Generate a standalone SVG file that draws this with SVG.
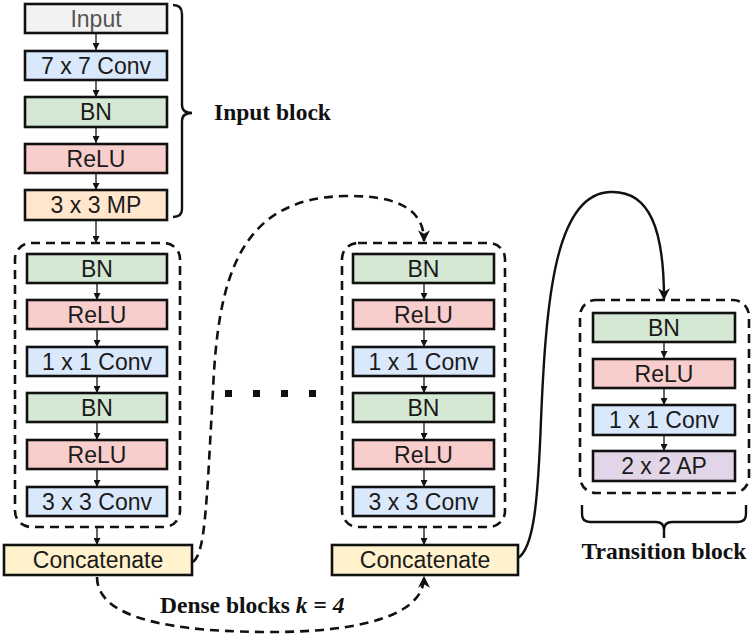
<svg xmlns="http://www.w3.org/2000/svg" width="754" height="642" viewBox="0 0 754 642">
<style>
.box{stroke:#111;stroke-width:2.6}
.lbl{font-family:"Liberation Sans",Arial,sans-serif;font-size:23px;fill:#1a1a1a;text-anchor:middle;dominant-baseline:central}
.in{fill:#f2f2f2}.conv{fill:#dae8fc}.bn{fill:#d5e8d4}.relu{fill:#f8cecc}.mp{fill:#ffe6cc}.cat{fill:#fff2cc}.ap{fill:#e1d5e7}
.dbox{fill:none;stroke:#111;stroke-width:2.6;stroke-dasharray:9 6}
.step{stroke:#111;stroke-width:1.3;fill:none;marker-end:url(#sa)}
.dcurve{fill:none;stroke:#111;stroke-width:2.6;stroke-dasharray:9 6;marker-end:url(#ba)}
.scurve{fill:none;stroke:#111;stroke-width:2.4;marker-end:url(#ba)}
.brace{fill:none;stroke:#111;stroke-width:2.4}
.title{font-family:"Liberation Serif","Times New Roman",serif;font-size:23.5px;font-weight:bold;fill:#111}
</style>
<defs>
<marker id="sa" viewBox="0 0 10 10" refX="10" refY="5" markerWidth="7" markerHeight="7" markerUnits="userSpaceOnUse" orient="auto"><path d="M0,0 L10,5 L0,10 z" fill="#111"/></marker>
<marker id="ba" viewBox="0 0 10 10" refX="9" refY="5" markerWidth="12" markerHeight="12" markerUnits="userSpaceOnUse" orient="auto"><path d="M0,0 L10,5 L0,10 L3,5 z" fill="#111"/></marker>
</defs>

<g id="connectors">
<line class="step" x1="96" y1="33" x2="96" y2="50"/>
<line class="step" x1="96" y1="80" x2="96" y2="97"/>
<line class="step" x1="96" y1="127" x2="96" y2="143"/>
<line class="step" x1="96" y1="173" x2="96" y2="190"/>
<line class="step" x1="96" y1="220" x2="96" y2="243"/>
<line class="step" x1="97" y1="283" x2="97" y2="300"/>
<line class="step" x1="97" y1="329" x2="97" y2="347"/>
<line class="step" x1="97" y1="376" x2="97" y2="393"/>
<line class="step" x1="97" y1="422" x2="97" y2="440"/>
<line class="step" x1="97" y1="469" x2="97" y2="487"/>
<line class="step" x1="97" y1="527" x2="97" y2="545"/>
<line class="step" x1="424" y1="283" x2="424" y2="300"/>
<line class="step" x1="424" y1="329" x2="424" y2="347"/>
<line class="step" x1="424" y1="376" x2="424" y2="393"/>
<line class="step" x1="424" y1="422" x2="424" y2="440"/>
<line class="step" x1="424" y1="469" x2="424" y2="487"/>
<line class="step" x1="424" y1="527" x2="424" y2="545"/>
<line class="step" x1="664" y1="342" x2="664" y2="358"/>
<line class="step" x1="664" y1="388" x2="664" y2="405"/>
<line class="step" x1="664" y1="435" x2="664" y2="451"/>
<path class="dcurve" d="M193,562 C203,555 205,520 208,480 L213,390 C218,280 238,198 345,196 C402,195 424,212 424,241"/>
<path class="dcurve" d="M97,577 C97,612 150,631 262,632 C362,633 424,615 424,577"/>
<path class="scurve" d="M518,558 C534,548 538,500 541,420 C546,300 555,194 610,192 C650,190 664,230 664,299"/>
</g>

<g id="input-block-brace">
<path class="brace" d="M173,5 Q182,5 182,14 L182,105 Q182,113 192,113 Q182,113 182,121 L182,209 Q182,217 173,217"/>
<text class="title" x="214" y="120">Input block</text>
</g>

<g id="node-input"><rect class="box in" x="25" y="4" width="142" height="29"/><text class="lbl" x="96" y="18.5" style="fill:#555">Input</text></g>
<g id="node-conv7"><rect class="box conv" x="25" y="51" width="142" height="29"/><text class="lbl" x="96" y="65.5">7 x 7 Conv</text></g>
<g id="node-bn0"><rect class="box bn" x="25" y="97" width="142" height="30"/><text class="lbl" x="96" y="112">BN</text></g>
<g id="node-relu0"><rect class="box relu" x="25" y="144" width="142" height="29"/><text class="lbl" x="96" y="158.5">ReLU</text></g>
<g id="node-mp"><rect class="box mp" x="25" y="190" width="142" height="30"/><text class="lbl" x="96" y="205">3 x 3 MP</text></g>

<g id="dense-block-1">
<rect class="dbox" x="15" y="243" width="165" height="284" rx="16"/>
<g id="d1-bn1"><rect class="box bn" x="27" y="254" width="140" height="29"/><text class="lbl" x="97" y="268.5">BN</text></g>
<g id="d1-relu1"><rect class="box relu" x="27" y="300" width="140" height="29"/><text class="lbl" x="97" y="314.5">ReLU</text></g>
<g id="d1-conv1"><rect class="box conv" x="27" y="347" width="140" height="29"/><text class="lbl" x="97" y="361.5">1 x 1 Conv</text></g>
<g id="d1-bn2"><rect class="box bn" x="27" y="393" width="140" height="29"/><text class="lbl" x="97" y="407.5">BN</text></g>
<g id="d1-relu2"><rect class="box relu" x="27" y="440" width="140" height="29"/><text class="lbl" x="97" y="454.5">ReLU</text></g>
<g id="d1-conv3"><rect class="box conv" x="27" y="487" width="140" height="29"/><text class="lbl" x="97" y="501.5">3 x 3 Conv</text></g>
</g>
<g id="concat-1"><rect class="box cat" x="4" y="545" width="188" height="30"/><text class="lbl" x="98" y="560">Concatenate</text></g>

<g id="ellipsis">
<rect x="225" y="390" width="7" height="7" fill="#111"/>
<rect x="253" y="390" width="7" height="7" fill="#111"/>
<rect x="281" y="390" width="7" height="7" fill="#111"/>
<rect x="309" y="390" width="7" height="7" fill="#111"/>
</g>

<g id="dense-block-2">
<rect class="dbox" x="342" y="243" width="163" height="284" rx="16"/>
<g id="d2-bn1"><rect class="box bn" x="353" y="254" width="141" height="29"/><text class="lbl" x="423.5" y="268.5">BN</text></g>
<g id="d2-relu1"><rect class="box relu" x="353" y="300" width="141" height="29"/><text class="lbl" x="423.5" y="314.5">ReLU</text></g>
<g id="d2-conv1"><rect class="box conv" x="353" y="347" width="141" height="29"/><text class="lbl" x="423.5" y="361.5">1 x 1 Conv</text></g>
<g id="d2-bn2"><rect class="box bn" x="353" y="393" width="141" height="29"/><text class="lbl" x="423.5" y="407.5">BN</text></g>
<g id="d2-relu2"><rect class="box relu" x="353" y="440" width="141" height="29"/><text class="lbl" x="423.5" y="454.5">ReLU</text></g>
<g id="d2-conv3"><rect class="box conv" x="353" y="487" width="141" height="29"/><text class="lbl" x="423.5" y="501.5">3 x 3 Conv</text></g>
</g>
<g id="concat-2"><rect class="box cat" x="332" y="545" width="186" height="30"/><text class="lbl" x="425" y="560">Concatenate</text></g>

<g id="dense-label"><text class="title" x="160" y="613">Dense blocks <tspan font-style="italic">k</tspan> = <tspan font-style="italic">4</tspan></text></g>

<g id="transition-block">
<rect class="dbox" x="580" y="300" width="169" height="193" rx="16"/>
<g id="t-bn"><rect class="box bn" x="593" y="313" width="142" height="29"/><text class="lbl" x="664" y="327.5">BN</text></g>
<g id="t-relu"><rect class="box relu" x="593" y="359" width="142" height="29"/><text class="lbl" x="664" y="373.5">ReLU</text></g>
<g id="t-conv"><rect class="box conv" x="593" y="405" width="142" height="30"/><text class="lbl" x="664" y="420">1 x 1 Conv</text></g>
<g id="t-ap"><rect class="box ap" x="593" y="451" width="142" height="30"/><text class="lbl" x="664" y="466">2 x 2 AP</text></g>
</g>
<g id="transition-brace">
<path class="brace" d="M582,505 L582,514 Q582,522 590,522 L656,522 Q664,522 664,530 L664,538 M664,530 Q664,522 672,522 L738,522 Q746,522 746,514 L746,505"/>
<text class="title" x="664" y="559" text-anchor="middle">Transition block</text>
</g>
</svg>
